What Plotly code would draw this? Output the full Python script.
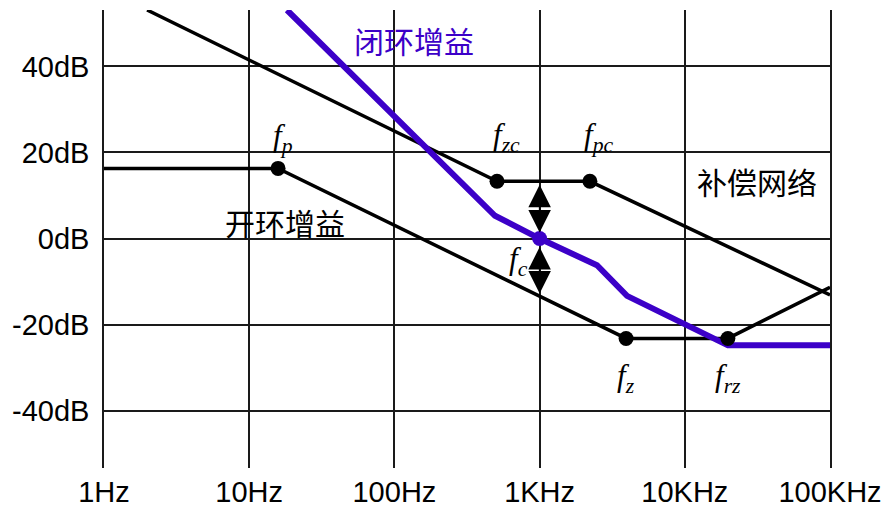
import numpy as np
import plotly.graph_objects as go

# ---- data (frequency in Hz, gain in dB) ----
open_f = [1, 15.8, 3940, 19800, 100000]
open_db = [16.3, 16.3, -23.2, -23.2, -11.3]

comp_f = [1.98, 509, 2220, 100000]
comp_db = [53.1, 13.3, 13.3, -13.1]

closed_f = [18.2, 493, 1000, 2485, 4000, 19800, 100000]
closed_db = [53.1, 5.3, 0, -6.2, -13.3, -24.8, -24.8]

# break points
dot_names = ["p", "zc", "pc", "z", "rz"]
dot_f = [15.8, 509, 2220, 3940, 19800]
dot_db = [16.3, 13.3, 13.3, -23.2, -23.2]
fc_f = 1000
fc_db = 0
fc_open_db = -13.0  # open loop gain at fc

x_ticks = [1, 10, 100, 1000, 10000, 100000]
x_labels = ["1Hz", "10Hz", "100Hz", "1KHz", "10KHz", "100KHz"]
y_ticks = [40, 20, 0, -20, -40]
y_labels = ["40dB", "20dB", "0dB", "-20dB", "-40dB"]

PURPLE = "#3C00C8"
BLACK = "#000000"
TICK_FONT = dict(family="Liberation Sans, Arial", size=29, color=BLACK)
CJK = "Noto Sans CJK SC"
SERIF = "Liberation Serif, Times New Roman"

fig = go.Figure()
fig.add_trace(go.Scatter(x=open_f, y=open_db, mode="lines",
                         line=dict(color=BLACK, width=3.5)))
fig.add_trace(go.Scatter(x=comp_f, y=comp_db, mode="lines",
                         line=dict(color=BLACK, width=3.5)))
fig.add_trace(go.Scatter(x=closed_f, y=closed_db, mode="lines",
                         line=dict(color=PURPLE, width=6)))
fig.add_trace(go.Scatter(x=dot_f, y=dot_db, mode="markers",
                         marker=dict(color=BLACK, size=15), cliponaxis=False))
fig.add_trace(go.Scatter(x=[fc_f], y=[fc_db], mode="markers",
                         marker=dict(color=PURPLE, size=15), cliponaxis=False))

# double-headed arrows at fc
lx = np.log10(fc_f)
arrow = dict(xref="x", yref="y", axref="x", ayref="y", showarrow=True,
             arrowhead=2, startarrowhead=2, arrowside="end+start",
             arrowsize=3, startarrowsize=3, arrowwidth=1.5,
             arrowcolor=BLACK, text="")
fig.add_annotation(x=lx, y=fc_db, ax=lx, ay=dot_db[1], standoff=6, startstandoff=2, **arrow)
fig.add_annotation(x=lx, y=fc_open_db, ax=lx, ay=fc_db, standoff=1, startstandoff=7, **arrow)

# italic f labels
def f_label(sub, f, db, dx, dy):
    fig.add_annotation(x=np.log10(f), y=db, xref="x", yref="y",
                       text=f"<i>f<sub>{sub}</sub></i>", showarrow=False,
                       xshift=dx, yshift=dy,
                       font=dict(family=SERIF, size=31, color=BLACK))

f_label(dot_names[0], dot_f[0], dot_db[0], 5, 30)
f_label(dot_names[1], dot_f[1], dot_db[1], 9, 44)
f_label(dot_names[2], dot_f[2], dot_db[2], 9, 44)
f_label(dot_names[3], dot_f[3], dot_db[3], 0, -40)
f_label(dot_names[4], dot_f[4], dot_db[4], 0, -40)
f_label("c", fc_f, fc_db, -21, -22)

# curve names
fig.add_annotation(x=np.log10(136), y=46.2, xref="x", yref="y", text="闭环增益",
                   showarrow=False, font=dict(family=CJK, size=30, color=PURPLE))
fig.add_annotation(x=np.log10(17.6), y=3.9, xref="x", yref="y", text="开环增益",
                   showarrow=False, font=dict(family=CJK, size=30, color=BLACK))
fig.add_annotation(x=np.log10(31400), y=13.3, xref="x", yref="y", text="补偿网络",
                   showarrow=False, font=dict(family=CJK, size=30, color=BLACK))

fig.update_xaxes(type="log", range=[0, 5], tickvals=x_ticks, ticktext=x_labels,
                 tickfont=TICK_FONT, showgrid=True, gridcolor="#1a1a1a", gridwidth=1.5,
                 zeroline=False, showline=False, ticks="", ticklabelstandoff=4)
fig.update_yaxes(range=[-53.3, 53.1], tickvals=y_ticks, ticktext=y_labels,
                 tickfont=TICK_FONT, showgrid=True, gridcolor="#1a1a1a", gridwidth=1.5,
                 zeroline=False, showline=True, mirror=True, linecolor="#1a1a1a",
                 linewidth=1.5, ticks="", ticklabelstandoff=7)
# page body has an 8px margin, so the figure is a little smaller than the window
fig.update_layout(width=881, height=502, autosize=False, showlegend=False,
                  paper_bgcolor="white", plot_bgcolor="white",
                  margin=dict(l=96, r=59, t=2, b=37))
fig.write_html("out.html")
